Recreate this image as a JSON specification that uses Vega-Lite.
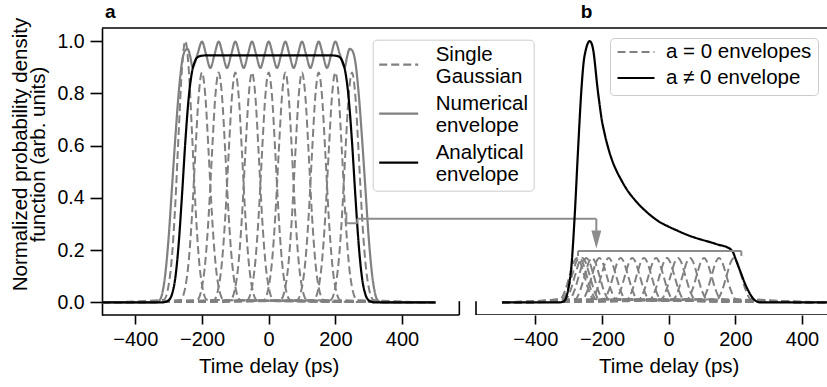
{
"$schema":"https://vega.github.io/schema/vega-lite/v6.json",
"width":725,"height":287,
"autosize":{"type":"none"},
"padding":{"left":102,"top":28,"right":0,"bottom":72},
"background":"white",
"config":{
 "font":"Liberation Sans",
 "view":{"stroke":null},
 "axis":{"grid":false,"labelFont":"Liberation Sans","titleFont":"Liberation Sans","labelFontSize":19,"titleFontSize":20.5,"titleFontWeight":"normal","labelColor":"#000","titleColor":"#000","tickColor":"#000","domainColor":"#000","tickWidth":1.6,"domainWidth":1.6},
 "axisX":{"domain":false,"labelBaseline":"alphabetic","tickSize":9,"labelPadding":21,"labelFontSize":20},
 "axisY":{"tickSize":12,"labelPadding":6,"labelFontSize":19.5},
 "legend":{"labelFont":"Liberation Sans","labelColor":"#000"}
},
"datasets":{
"ga":[
{"g":1,"x":-500,"y":0},{"g":1,"x":-315,"y":0.01},{"g":1,"x":-300,"y":0.067},{"g":1,"x":-290,"y":0.177},{"g":1,"x":-280,"y":0.378},{"g":1,"x":-270,"y":0.649},{"g":1,"x":-260,"y":0.897},{"g":1,"x":-250,"y":1},{"g":1,"x":-240,"y":0.897},{"g":1,"x":-230,"y":0.649},{"g":1,"x":-220,"y":0.378},{"g":1,"x":-210,"y":0.177},{"g":1,"x":-200,"y":0.067},{"g":1,"x":-185,"y":0.01},{"g":1,"x":500,"y":0},
{"g":2,"x":-500,"y":0},{"g":2,"x":-265,"y":0.009},{"g":2,"x":-250,"y":0.059},{"g":2,"x":-240,"y":0.156},{"g":2,"x":-230,"y":0.332},{"g":2,"x":-220,"y":0.571},{"g":2,"x":-210,"y":0.79},{"g":2,"x":-200,"y":0.88},{"g":2,"x":-190,"y":0.79},{"g":2,"x":-180,"y":0.571},{"g":2,"x":-170,"y":0.332},{"g":2,"x":-160,"y":0.156},{"g":2,"x":-150,"y":0.059},{"g":2,"x":-135,"y":0.009},{"g":2,"x":500,"y":0},
{"g":3,"x":-500,"y":0},{"g":3,"x":-215,"y":0.009},{"g":3,"x":-200,"y":0.059},{"g":3,"x":-190,"y":0.156},{"g":3,"x":-180,"y":0.332},{"g":3,"x":-170,"y":0.571},{"g":3,"x":-160,"y":0.79},{"g":3,"x":-150,"y":0.88},{"g":3,"x":-140,"y":0.79},{"g":3,"x":-130,"y":0.571},{"g":3,"x":-120,"y":0.332},{"g":3,"x":-110,"y":0.156},{"g":3,"x":-100,"y":0.059},{"g":3,"x":-85,"y":0.009},{"g":3,"x":500,"y":0},
{"g":4,"x":-500,"y":0},{"g":4,"x":-165,"y":0.009},{"g":4,"x":-150,"y":0.059},{"g":4,"x":-140,"y":0.156},{"g":4,"x":-130,"y":0.332},{"g":4,"x":-120,"y":0.571},{"g":4,"x":-110,"y":0.79},{"g":4,"x":-100,"y":0.88},{"g":4,"x":-90,"y":0.79},{"g":4,"x":-80,"y":0.571},{"g":4,"x":-70,"y":0.332},{"g":4,"x":-60,"y":0.156},{"g":4,"x":-50,"y":0.059},{"g":4,"x":-35,"y":0.009},{"g":4,"x":500,"y":0},
{"g":5,"x":-500,"y":0},{"g":5,"x":-115,"y":0.009},{"g":5,"x":-100,"y":0.059},{"g":5,"x":-90,"y":0.156},{"g":5,"x":-80,"y":0.332},{"g":5,"x":-70,"y":0.571},{"g":5,"x":-60,"y":0.79},{"g":5,"x":-50,"y":0.88},{"g":5,"x":-40,"y":0.79},{"g":5,"x":-30,"y":0.571},{"g":5,"x":-20,"y":0.332},{"g":5,"x":-10,"y":0.156},{"g":5,"x":0,"y":0.059},{"g":5,"x":15,"y":0.009},{"g":5,"x":500,"y":0},
{"g":6,"x":-500,"y":0},{"g":6,"x":-65,"y":0.009},{"g":6,"x":-50,"y":0.059},{"g":6,"x":-40,"y":0.156},{"g":6,"x":-30,"y":0.332},{"g":6,"x":-20,"y":0.571},{"g":6,"x":-10,"y":0.79},{"g":6,"x":0,"y":0.88},{"g":6,"x":10,"y":0.79},{"g":6,"x":20,"y":0.571},{"g":6,"x":30,"y":0.332},{"g":6,"x":40,"y":0.156},{"g":6,"x":50,"y":0.059},{"g":6,"x":65,"y":0.009},{"g":6,"x":500,"y":0},
{"g":7,"x":-500,"y":0},{"g":7,"x":-15,"y":0.009},{"g":7,"x":0,"y":0.059},{"g":7,"x":10,"y":0.156},{"g":7,"x":20,"y":0.332},{"g":7,"x":30,"y":0.571},{"g":7,"x":40,"y":0.79},{"g":7,"x":50,"y":0.88},{"g":7,"x":60,"y":0.79},{"g":7,"x":70,"y":0.571},{"g":7,"x":80,"y":0.332},{"g":7,"x":90,"y":0.156},{"g":7,"x":100,"y":0.059},{"g":7,"x":115,"y":0.009},{"g":7,"x":500,"y":0},
{"g":8,"x":-500,"y":0},{"g":8,"x":35,"y":0.009},{"g":8,"x":50,"y":0.059},{"g":8,"x":60,"y":0.156},{"g":8,"x":70,"y":0.332},{"g":8,"x":80,"y":0.571},{"g":8,"x":90,"y":0.79},{"g":8,"x":100,"y":0.88},{"g":8,"x":110,"y":0.79},{"g":8,"x":120,"y":0.571},{"g":8,"x":130,"y":0.332},{"g":8,"x":140,"y":0.156},{"g":8,"x":150,"y":0.059},{"g":8,"x":165,"y":0.009},{"g":8,"x":500,"y":0},
{"g":9,"x":-500,"y":0},{"g":9,"x":85,"y":0.009},{"g":9,"x":100,"y":0.059},{"g":9,"x":110,"y":0.156},{"g":9,"x":120,"y":0.332},{"g":9,"x":130,"y":0.571},{"g":9,"x":140,"y":0.79},{"g":9,"x":150,"y":0.88},{"g":9,"x":160,"y":0.79},{"g":9,"x":170,"y":0.571},{"g":9,"x":180,"y":0.332},{"g":9,"x":190,"y":0.156},{"g":9,"x":200,"y":0.059},{"g":9,"x":215,"y":0.009},{"g":9,"x":500,"y":0},
{"g":10,"x":-500,"y":0},{"g":10,"x":135,"y":0.009},{"g":10,"x":150,"y":0.059},{"g":10,"x":160,"y":0.156},{"g":10,"x":170,"y":0.332},{"g":10,"x":180,"y":0.571},{"g":10,"x":190,"y":0.79},{"g":10,"x":200,"y":0.88},{"g":10,"x":210,"y":0.79},{"g":10,"x":220,"y":0.571},{"g":10,"x":230,"y":0.332},{"g":10,"x":240,"y":0.156},{"g":10,"x":250,"y":0.059},{"g":10,"x":265,"y":0.009},{"g":10,"x":500,"y":0},
{"g":11,"x":-500,"y":0},{"g":11,"x":185,"y":0.009},{"g":11,"x":200,"y":0.059},{"g":11,"x":210,"y":0.156},{"g":11,"x":220,"y":0.332},{"g":11,"x":230,"y":0.571},{"g":11,"x":240,"y":0.79},{"g":11,"x":250,"y":0.88},{"g":11,"x":260,"y":0.79},{"g":11,"x":270,"y":0.571},{"g":11,"x":280,"y":0.332},{"g":11,"x":290,"y":0.156},{"g":11,"x":300,"y":0.059},{"g":11,"x":315,"y":0.009},{"g":11,"x":500,"y":0}
],
"na":[
{"x":-500,"y":0},{"x":-340,"y":0},{"x":-330,"y":0.005},{"x":-320,"y":0.03},{"x":-310,"y":0.11},{"x":-300,"y":0.25},{"x":-290,"y":0.44},{"x":-280,"y":0.63},{"x":-270,"y":0.8},{"x":-260,"y":0.92},{"x":-250,"y":0.965},{"x":-243,"y":0.97},{"x":-236,"y":0.945},{"x":-228,"y":0.9},{"x":-214,"y":0.948},{"x":-200,"y":0.998},{"x":-187.5,"y":0.948},{"x":-175,"y":0.897},{"x":-162.5,"y":0.948},{"x":-150,"y":0.998},{"x":-137.5,"y":0.948},{"x":-125,"y":0.897},{"x":-112.5,"y":0.948},{"x":-100,"y":0.998},{"x":-87.5,"y":0.948},{"x":-75,"y":0.897},{"x":-62.5,"y":0.948},{"x":-50,"y":0.998},{"x":-37.5,"y":0.948},{"x":-25,"y":0.897},{"x":-12.5,"y":0.948},{"x":0,"y":0.998},{"x":12.5,"y":0.948},{"x":25,"y":0.897},{"x":37.5,"y":0.948},{"x":50,"y":0.998},{"x":62.5,"y":0.948},{"x":75,"y":0.897},{"x":87.5,"y":0.948},{"x":100,"y":0.998},{"x":112.5,"y":0.948},{"x":125,"y":0.897},{"x":137.5,"y":0.948},{"x":150,"y":0.998},{"x":162.5,"y":0.948},{"x":175,"y":0.897},{"x":187.5,"y":0.948},{"x":200,"y":0.998},{"x":214,"y":0.948},{"x":228,"y":0.9},{"x":236,"y":0.945},{"x":243,"y":0.97},{"x":250,"y":0.965},{"x":260,"y":0.92},{"x":270,"y":0.8},{"x":280,"y":0.63},{"x":290,"y":0.44},{"x":300,"y":0.25},{"x":310,"y":0.11},{"x":320,"y":0.03},{"x":330,"y":0.005},{"x":340,"y":0},{"x":500,"y":0}
],
"aa":[
{"x":-500,"y":0},{"x":-320,"y":0},{"x":-310,"y":0.002},{"x":-300,"y":0.008},{"x":-290,"y":0.032},{"x":-280,"y":0.095},{"x":-270,"y":0.223},{"x":-260,"y":0.41},{"x":-250,"y":0.615},{"x":-240,"y":0.782},{"x":-230,"y":0.882},{"x":-220,"y":0.926},{"x":-210,"y":0.941},{"x":-200,"y":0.944},{"x":-190,"y":0.945},{"x":190,"y":0.945},{"x":200,"y":0.944},{"x":210,"y":0.941},{"x":220,"y":0.926},{"x":230,"y":0.882},{"x":240,"y":0.782},{"x":250,"y":0.615},{"x":260,"y":0.41},{"x":270,"y":0.223},{"x":280,"y":0.095},{"x":290,"y":0.032},{"x":300,"y":0.008},{"x":310,"y":0.002},{"x":320,"y":0},{"x":500,"y":0}
],
"gb":[
{"g":1,"x":-500,"y":0},{"g":1,"x":146,"y":0.013},{"g":1,"x":161,"y":0.048},{"g":1,"x":176,"y":0.112},{"g":1,"x":186,"y":0.153},{"g":1,"x":196,"y":0.17},{"g":1,"x":206,"y":0.153},{"g":1,"x":216,"y":0.112},{"g":1,"x":231,"y":0.048},{"g":1,"x":246,"y":0.013},{"g":1,"x":500,"y":0},
{"g":2,"x":-500,"y":0},{"g":2,"x":101,"y":0.013},{"g":2,"x":116,"y":0.048},{"g":2,"x":131,"y":0.112},{"g":2,"x":141,"y":0.153},{"g":2,"x":151,"y":0.17},{"g":2,"x":161,"y":0.153},{"g":2,"x":171,"y":0.112},{"g":2,"x":186,"y":0.048},{"g":2,"x":201,"y":0.013},{"g":2,"x":500,"y":0},
{"g":3,"x":-500,"y":0},{"g":3,"x":56,"y":0.013},{"g":3,"x":71,"y":0.048},{"g":3,"x":86,"y":0.112},{"g":3,"x":96,"y":0.153},{"g":3,"x":106,"y":0.17},{"g":3,"x":116,"y":0.153},{"g":3,"x":126,"y":0.112},{"g":3,"x":141,"y":0.048},{"g":3,"x":156,"y":0.013},{"g":3,"x":500,"y":0},
{"g":4,"x":-500,"y":0},{"g":4,"x":14,"y":0.013},{"g":4,"x":29,"y":0.048},{"g":4,"x":44,"y":0.112},{"g":4,"x":54,"y":0.153},{"g":4,"x":64,"y":0.17},{"g":4,"x":74,"y":0.153},{"g":4,"x":84,"y":0.112},{"g":4,"x":99,"y":0.048},{"g":4,"x":114,"y":0.013},{"g":4,"x":500,"y":0},
{"g":5,"x":-500,"y":0},{"g":5,"x":-22,"y":0.013},{"g":5,"x":-7,"y":0.048},{"g":5,"x":8,"y":0.112},{"g":5,"x":18,"y":0.153},{"g":5,"x":28,"y":0.17},{"g":5,"x":38,"y":0.153},{"g":5,"x":48,"y":0.112},{"g":5,"x":63,"y":0.048},{"g":5,"x":78,"y":0.013},{"g":5,"x":500,"y":0},
{"g":6,"x":-500,"y":0},{"g":6,"x":-55,"y":0.013},{"g":6,"x":-40,"y":0.048},{"g":6,"x":-25,"y":0.112},{"g":6,"x":-15,"y":0.153},{"g":6,"x":-5,"y":0.17},{"g":6,"x":5,"y":0.153},{"g":6,"x":15,"y":0.112},{"g":6,"x":30,"y":0.048},{"g":6,"x":45,"y":0.013},{"g":6,"x":500,"y":0},
{"g":7,"x":-500,"y":0},{"g":7,"x":-88,"y":0.013},{"g":7,"x":-73,"y":0.048},{"g":7,"x":-58,"y":0.112},{"g":7,"x":-48,"y":0.153},{"g":7,"x":-38,"y":0.17},{"g":7,"x":-28,"y":0.153},{"g":7,"x":-18,"y":0.112},{"g":7,"x":-3,"y":0.048},{"g":7,"x":12,"y":0.013},{"g":7,"x":500,"y":0},
{"g":8,"x":-500,"y":0},{"g":8,"x":-124,"y":0.013},{"g":8,"x":-109,"y":0.048},{"g":8,"x":-94,"y":0.112},{"g":8,"x":-84,"y":0.153},{"g":8,"x":-74,"y":0.17},{"g":8,"x":-64,"y":0.153},{"g":8,"x":-54,"y":0.112},{"g":8,"x":-39,"y":0.048},{"g":8,"x":-24,"y":0.013},{"g":8,"x":500,"y":0},
{"g":9,"x":-500,"y":0},{"g":9,"x":-159,"y":0.013},{"g":9,"x":-144,"y":0.048},{"g":9,"x":-129,"y":0.112},{"g":9,"x":-119,"y":0.153},{"g":9,"x":-109,"y":0.17},{"g":9,"x":-99,"y":0.153},{"g":9,"x":-89,"y":0.112},{"g":9,"x":-74,"y":0.048},{"g":9,"x":-59,"y":0.013},{"g":9,"x":500,"y":0},
{"g":10,"x":-500,"y":0},{"g":10,"x":-194,"y":0.013},{"g":10,"x":-179,"y":0.048},{"g":10,"x":-164,"y":0.112},{"g":10,"x":-154,"y":0.153},{"g":10,"x":-144,"y":0.17},{"g":10,"x":-134,"y":0.153},{"g":10,"x":-124,"y":0.112},{"g":10,"x":-109,"y":0.048},{"g":10,"x":-94,"y":0.013},{"g":10,"x":500,"y":0},
{"g":11,"x":-500,"y":0},{"g":11,"x":-230,"y":0.013},{"g":11,"x":-215,"y":0.048},{"g":11,"x":-200,"y":0.112},{"g":11,"x":-190,"y":0.153},{"g":11,"x":-180,"y":0.17},{"g":11,"x":-170,"y":0.153},{"g":11,"x":-160,"y":0.112},{"g":11,"x":-145,"y":0.048},{"g":11,"x":-130,"y":0.013},{"g":11,"x":500,"y":0},
{"g":12,"x":-500,"y":0},{"g":12,"x":-258,"y":0.013},{"g":12,"x":-243,"y":0.048},{"g":12,"x":-228,"y":0.112},{"g":12,"x":-218,"y":0.153},{"g":12,"x":-208,"y":0.17},{"g":12,"x":-198,"y":0.153},{"g":12,"x":-188,"y":0.112},{"g":12,"x":-173,"y":0.048},{"g":12,"x":-158,"y":0.013},{"g":12,"x":500,"y":0},
{"g":13,"x":-500,"y":0},{"g":13,"x":-280,"y":0.013},{"g":13,"x":-265,"y":0.048},{"g":13,"x":-250,"y":0.112},{"g":13,"x":-240,"y":0.153},{"g":13,"x":-230,"y":0.17},{"g":13,"x":-220,"y":0.153},{"g":13,"x":-210,"y":0.112},{"g":13,"x":-195,"y":0.048},{"g":13,"x":-180,"y":0.013},{"g":13,"x":500,"y":0},
{"g":14,"x":-500,"y":0},{"g":14,"x":-297,"y":0.013},{"g":14,"x":-282,"y":0.048},{"g":14,"x":-267,"y":0.112},{"g":14,"x":-257,"y":0.153},{"g":14,"x":-247,"y":0.17},{"g":14,"x":-237,"y":0.153},{"g":14,"x":-227,"y":0.112},{"g":14,"x":-212,"y":0.048},{"g":14,"x":-197,"y":0.013},{"g":14,"x":500,"y":0},
{"g":15,"x":-500,"y":0},{"g":15,"x":-309,"y":0.013},{"g":15,"x":-294,"y":0.048},{"g":15,"x":-279,"y":0.112},{"g":15,"x":-269,"y":0.153},{"g":15,"x":-259,"y":0.17},{"g":15,"x":-249,"y":0.153},{"g":15,"x":-239,"y":0.112},{"g":15,"x":-224,"y":0.048},{"g":15,"x":-209,"y":0.013},{"g":15,"x":500,"y":0},
{"g":16,"x":-500,"y":0},{"g":16,"x":-318,"y":0.013},{"g":16,"x":-303,"y":0.048},{"g":16,"x":-288,"y":0.112},{"g":16,"x":-278,"y":0.153},{"g":16,"x":-268,"y":0.17},{"g":16,"x":-258,"y":0.153},{"g":16,"x":-248,"y":0.112},{"g":16,"x":-233,"y":0.048},{"g":16,"x":-218,"y":0.013},{"g":16,"x":500,"y":0},
{"g":17,"x":-500,"y":0},{"g":17,"x":-325,"y":0.013},{"g":17,"x":-310,"y":0.048},{"g":17,"x":-295,"y":0.112},{"g":17,"x":-285,"y":0.153},{"g":17,"x":-275,"y":0.17},{"g":17,"x":-265,"y":0.153},{"g":17,"x":-255,"y":0.112},{"g":17,"x":-240,"y":0.048},{"g":17,"x":-225,"y":0.013},{"g":17,"x":500,"y":0}
],
"bb":[
{"x":-500,"y":0},{"x":-330,"y":0},{"x":-315,"y":0.004},{"x":-307,"y":0.02},{"x":-300,"y":0.06},{"x":-292,"y":0.135},{"x":-282,"y":0.33},{"x":-272,"y":0.58},{"x":-262,"y":0.81},{"x":-255,"y":0.92},{"x":-249,"y":0.964},{"x":-243,"y":0.99},{"x":-237,"y":1},{"x":-231,"y":0.99},{"x":-225,"y":0.955},{"x":-220,"y":0.9},{"x":-215,"y":0.837},{"x":-208,"y":0.765},{"x":-202,"y":0.709},{"x":-192,"y":0.645},{"x":-182,"y":0.594},{"x":-170,"y":0.545},{"x":-157,"y":0.505},{"x":-142,"y":0.468},{"x":-127,"y":0.435},{"x":-102,"y":0.393},{"x":-77,"y":0.359},{"x":-52,"y":0.331},{"x":-26,"y":0.307},{"x":0,"y":0.29},{"x":24,"y":0.276},{"x":49,"y":0.262},{"x":74,"y":0.25},{"x":99,"y":0.24},{"x":124,"y":0.231},{"x":149,"y":0.221},{"x":174,"y":0.212},{"x":186,"y":0.203},{"x":194,"y":0.19},{"x":199,"y":0.173},{"x":206,"y":0.148},{"x":214,"y":0.122},{"x":222,"y":0.095},{"x":229,"y":0.072},{"x":237,"y":0.05},{"x":244,"y":0.033},{"x":252,"y":0.017},{"x":259,"y":0.008},{"x":266,"y":0.003},{"x":274,"y":0},{"x":500,"y":0}
]
},
"layer":[
{"layer":[
 {"data":{"name":"ga"},"mark":{"type":"line","interpolate":"monotone","strokeWidth":2},
  "encoding":{
   "x":{"field":"x","type":"quantitative","scale":{"domain":[-500,1675],"nice":false,"zero":false},
        "axis":{"orient":"bottom","values":[-400,-200,0,200,400],"title":"Time delay (ps)","titleX":166.7,"titleY":57.7,"titleBaseline":"alphabetic","titleAlign":"center"}},
   "y":{"field":"y","type":"quantitative","scale":{"domain":[-0.048,1.05],"nice":false,"zero":false},
        "axis":{"values":[0,0.2,0.4,0.6,0.8,1],"format":".1f","title":["Normalized probability density","function (arb. units)"],"titleX":-72,"titleY":126,"titleAngle":-90,"titleBaseline":"bottom","titleAlign":"center","titleLineHeight":18.5}},
   "detail":{"field":"g","type":"nominal"},
   "color":{"datum":"Single Gaussian","scale":{"domain":["Single Gaussian","Numerical envelope","Analytical envelope"],"range":["#808080","#808080","#000000"]},
     "legend":{"orient":"none","legendX":270.7,"legendY":11.7,"title":null,"symbolType":"stroke","symbolSize":1521,"symbolStrokeWidth":2.2,"labelFontSize":20.5,"labelLineHeight":21.5,"labelBaseline":"bottom","labelLimit":400,"labelOffset":16,"clipHeight":40,"rowPadding":6,"padding":5,"strokeColor":"#cccccc","fillColor":"#ffffff","cornerRadius":4,
       "labelExpr":"datum.label == 'Single Gaussian' ? ['Single','Gaussian'] : datum.label == 'Numerical envelope' ? ['Numerical','envelope'] : ['Analytical','envelope']"}},
   "strokeDash":{"datum":"Single Gaussian","scale":{"domain":["Single Gaussian","Numerical envelope","Analytical envelope"],"range":[[8,4],[1,0],[1,0]]},
     "legend":{"orient":"none","legendX":270.7,"legendY":11.7,"title":null,"symbolType":"stroke","symbolSize":1521,"symbolStrokeWidth":2.2,"labelFontSize":20.5,"labelLineHeight":21.5,"labelBaseline":"bottom","labelLimit":400,"labelOffset":16,"clipHeight":40,"rowPadding":6,"padding":5,"strokeColor":"#cccccc","fillColor":"#ffffff","cornerRadius":4,
       "labelExpr":"datum.label == 'Single Gaussian' ? ['Single','Gaussian'] : datum.label == 'Numerical envelope' ? ['Numerical','envelope'] : ['Analytical','envelope']"}}
  }},
 {"data":{"name":"na"},"mark":{"type":"line","interpolate":"monotone","strokeWidth":2.2},
  "encoding":{
   "x":{"field":"x","type":"quantitative","scale":{"domain":[-500,1675],"nice":false,"zero":false}},
   "y":{"field":"y","type":"quantitative","scale":{"domain":[-0.048,1.05],"nice":false,"zero":false}},
   "color":{"datum":"Numerical envelope"},
   "strokeDash":{"datum":"Numerical envelope"}
  }},
 {"data":{"name":"aa"},"mark":{"type":"line","interpolate":"monotone","strokeWidth":2.2},
  "encoding":{
   "x":{"field":"x","type":"quantitative","scale":{"domain":[-500,1675],"nice":false,"zero":false}},
   "y":{"field":"y","type":"quantitative","scale":{"domain":[-0.048,1.05],"nice":false,"zero":false}},
   "color":{"datum":"Analytical envelope"},
   "strokeDash":{"datum":"Analytical envelope"}
  }},
 {"data":{"values":[{}]},"mark":{"type":"rule","color":"#000","strokeWidth":1.6},
  "encoding":{"y":{"datum":1.05,"type":"quantitative","scale":{"domain":[-0.048,1.05],"nice":false,"zero":false}}}},
 {"data":{"values":[{}]},"mark":{"type":"rule","color":"#000","strokeWidth":1.6},
  "encoding":{"x":{"datum":-500,"type":"quantitative","scale":{"domain":[-500,1675],"nice":false,"zero":false}},"x2":{"datum":572},
   "y":{"datum":-0.048,"type":"quantitative","scale":{"domain":[-0.048,1.05],"nice":false,"zero":false}}}},
 {"data":{"values":[{}]},"mark":{"type":"rule","color":"#000","strokeWidth":1.6},
  "encoding":{"x":{"datum":572,"type":"quantitative","scale":{"domain":[-500,1675],"nice":false,"zero":false}},
   "y":{"datum":-0.048,"type":"quantitative","scale":{"domain":[-0.048,1.05],"nice":false,"zero":false}},"y2":{"datum":0.005}}},
 {"data":{"values":[{}]},"mark":{"type":"rule","color":"#8c8c8c","strokeWidth":2},
  "encoding":{"x":{"datum":233,"type":"quantitative","scale":{"domain":[-500,1675],"nice":false,"zero":false}},
   "y":{"datum":0.303,"type":"quantitative","scale":{"domain":[-0.048,1.05],"nice":false,"zero":false}},"y2":{"datum":0.345}}},
 {"data":{"values":[{}]},"mark":{"type":"rule","color":"#8c8c8c","strokeWidth":2},
  "encoding":{"x":{"datum":233,"type":"quantitative","scale":{"domain":[-500,1675],"nice":false,"zero":false}},"x2":{"datum":266},
   "y":{"datum":0.303,"type":"quantitative","scale":{"domain":[-0.048,1.05],"nice":false,"zero":false}}}},
 {"data":{"values":[{}]},"mark":{"type":"rule","color":"#8c8c8c","strokeWidth":2},
  "encoding":{"x":{"datum":266,"type":"quantitative","scale":{"domain":[-500,1675],"nice":false,"zero":false}},
   "y":{"datum":0.303,"type":"quantitative","scale":{"domain":[-0.048,1.05],"nice":false,"zero":false}},"y2":{"datum":0.32}}},
 {"data":{"values":[{}]},"mark":{"type":"rule","color":"#8c8c8c","strokeWidth":2},
  "encoding":{"x":{"datum":266,"type":"quantitative","scale":{"domain":[-500,1675],"nice":false,"zero":false}},"x2":{"datum":983},
   "y":{"datum":0.32,"type":"quantitative","scale":{"domain":[-0.048,1.05],"nice":false,"zero":false}}}},
 {"data":{"values":[{}]},"mark":{"type":"text","font":"Liberation Sans","fontWeight":"bold","fontSize":19,"align":"left","baseline":"alphabetic","color":"#000"},
  "encoding":{"x":{"datum":-491,"type":"quantitative","scale":{"domain":[-500,1675],"nice":false,"zero":false}},
   "y":{"datum":1.09,"type":"quantitative","scale":{"domain":[-0.048,1.05],"nice":false,"zero":false}},"text":{"value":"a"}}}
]},
{"layer":[
 {"data":{"name":"gb"},"mark":{"type":"line","interpolate":"monotone","strokeWidth":2,"clip":true},
  "encoding":{
   "x":{"field":"x","type":"quantitative","scale":{"domain":[-1700,475],"nice":false,"zero":false},
        "axis":{"orient":"bottom","values":[-400,-200,0,200,400],"title":"Time delay (ps)","titleX":566.7,"titleY":57.7,"titleBaseline":"alphabetic","titleAlign":"center"}},
   "y":{"field":"y","type":"quantitative","scale":{"domain":[-0.048,1.05],"nice":false,"zero":false}},
   "detail":{"field":"g","type":"nominal"},
   "color":{"datum":"a = 0 envelopes","scale":{"domain":["a = 0 envelopes","a ≠ 0 envelope"],"range":["#808080","#000000"]},
     "legend":{"orient":"none","legendX":508,"legendY":10,"title":null,"symbolType":"stroke","symbolSize":1369,"symbolStrokeWidth":2.2,"labelFontSize":20.5,"labelLimit":400,"labelOffset":10,"clipHeight":16,"rowPadding":5,"padding":6,"strokeColor":"#cccccc","fillColor":"#ffffff","cornerRadius":4}},
   "strokeDash":{"datum":"a = 0 envelopes","scale":{"domain":["a = 0 envelopes","a ≠ 0 envelope"],"range":[[8,4],[1,0]]},
     "legend":{"orient":"none","legendX":508,"legendY":10,"title":null,"symbolType":"stroke","symbolSize":1369,"symbolStrokeWidth":2.2,"labelFontSize":20.5,"labelLimit":400,"labelOffset":10,"clipHeight":16,"rowPadding":5,"padding":6,"strokeColor":"#cccccc","fillColor":"#ffffff","cornerRadius":4}}
  }},
 {"data":{"name":"bb"},"mark":{"type":"line","interpolate":"monotone","strokeWidth":2.2,"clip":true},
  "encoding":{
   "x":{"field":"x","type":"quantitative","scale":{"domain":[-1700,475],"nice":false,"zero":false}},
   "y":{"field":"y","type":"quantitative","scale":{"domain":[-0.048,1.05],"nice":false,"zero":false}},
   "color":{"datum":"a ≠ 0 envelope"},
   "strokeDash":{"datum":"a ≠ 0 envelope"}
  }},
 {"data":{"values":[{}]},"mark":{"type":"rule","color":"#000","strokeWidth":1.6,"clip":true},
  "encoding":{"x":{"datum":-578,"type":"quantitative","scale":{"domain":[-1700,475],"nice":false,"zero":false}},"x2":{"datum":475},
   "y":{"datum":-0.048,"type":"quantitative","scale":{"domain":[-0.048,1.05],"nice":false,"zero":false}}}},
 {"data":{"values":[{}]},"mark":{"type":"rule","color":"#000","strokeWidth":1.6},
  "encoding":{"x":{"datum":-578,"type":"quantitative","scale":{"domain":[-1700,475],"nice":false,"zero":false}},
   "y":{"datum":-0.048,"type":"quantitative","scale":{"domain":[-0.048,1.05],"nice":false,"zero":false}},"y2":{"datum":0.005}}},
 {"data":{"values":[{}]},"mark":{"type":"rule","color":"#8c8c8c","strokeWidth":2},
  "encoding":{"x":{"datum":-217,"type":"quantitative","scale":{"domain":[-1700,475],"nice":false,"zero":false}},
   "y":{"datum":0.32,"type":"quantitative","scale":{"domain":[-0.048,1.05],"nice":false,"zero":false}},"y2":{"datum":0.26}}},
 {"data":{"values":[{}]},"mark":{"type":"point","filled":true,"opacity":1,"color":"#8c8c8c","size":324,"shape":"M-0.55,-1L0.55,-1L0,1Z"},
  "encoding":{"x":{"datum":-217,"type":"quantitative","scale":{"domain":[-1700,475],"nice":false,"zero":false}},
   "y":{"datum":0.241,"type":"quantitative","scale":{"domain":[-0.048,1.05],"nice":false,"zero":false}}}},
 {"data":{"values":[{}]},"mark":{"type":"rule","color":"#8c8c8c","strokeWidth":2},
  "encoding":{"x":{"datum":-272,"type":"quantitative","scale":{"domain":[-1700,475],"nice":false,"zero":false}},
   "y":{"datum":0.178,"type":"quantitative","scale":{"domain":[-0.048,1.05],"nice":false,"zero":false}},"y2":{"datum":0.197}}},
 {"data":{"values":[{}]},"mark":{"type":"rule","color":"#8c8c8c","strokeWidth":2},
  "encoding":{"x":{"datum":-272,"type":"quantitative","scale":{"domain":[-1700,475],"nice":false,"zero":false}},"x2":{"datum":218},
   "y":{"datum":0.197,"type":"quantitative","scale":{"domain":[-0.048,1.05],"nice":false,"zero":false}}}},
 {"data":{"values":[{}]},"mark":{"type":"rule","color":"#8c8c8c","strokeWidth":2},
  "encoding":{"x":{"datum":218,"type":"quantitative","scale":{"domain":[-1700,475],"nice":false,"zero":false}},
   "y":{"datum":0.178,"type":"quantitative","scale":{"domain":[-0.048,1.05],"nice":false,"zero":false}},"y2":{"datum":0.197}}},
 {"data":{"values":[{}]},"mark":{"type":"text","font":"Liberation Sans","fontWeight":"bold","fontSize":19,"align":"center","baseline":"alphabetic","color":"#000"},
  "encoding":{"x":{"datum":-246,"type":"quantitative","scale":{"domain":[-1700,475],"nice":false,"zero":false}},
   "y":{"datum":1.088,"type":"quantitative","scale":{"domain":[-0.048,1.05],"nice":false,"zero":false}},"text":{"value":"b"}}}
]}
],
"resolve":{"scale":{"x":"independent","color":"independent","strokeDash":"independent"},"axis":{"x":"independent"},"legend":{"color":"independent","strokeDash":"independent"}}
}
